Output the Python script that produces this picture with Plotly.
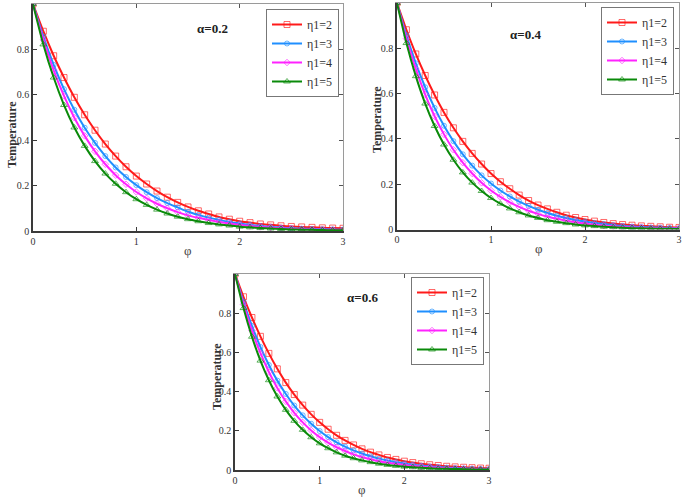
import plotly.graph_objects as go

# ---------------- data ----------------
PHI = [0.0, 0.1, 0.2, 0.3, 0.4, 0.5, 0.6, 0.7, 0.8, 0.9, 1.0,
       1.1, 1.2, 1.3, 1.4, 1.5, 1.6, 1.7, 1.8, 1.9, 2.0,
       2.1, 2.2, 2.3, 2.4, 2.5, 2.6, 2.7, 2.8, 2.9, 3.0]

SERIES_NAMES = ["η1=2", "η1=3", "η1=4", "η1=5"]
PANEL_TITLES = ["α=0.2", "α=0.4", "α=0.6"]
X_TICKS = [0, 1, 2, 3]
Y_TICKS = [0, 0.2, 0.4, 0.6, 0.8]
Y_TICK_TEXT = ["0", "0.2", "0.4", "0.6", "0.8"]

# alpha = 0.2
T_A02_ETA2 = [1.000, 0.880, 0.772, 0.676, 0.589, 0.512, 0.444, 0.383, 0.330, 0.283, 0.242,
              0.207, 0.176, 0.149, 0.126, 0.106, 0.089, 0.075, 0.062, 0.052, 0.043,
              0.037, 0.031, 0.027, 0.023, 0.020, 0.018, 0.016, 0.014, 0.013, 0.012]
T_A02_ETA3 = [1.000, 0.856, 0.732, 0.625, 0.534, 0.455, 0.388, 0.330, 0.280, 0.238, 0.202,
              0.171, 0.145, 0.123, 0.104, 0.085, 0.071, 0.059, 0.049, 0.040, 0.033,
              0.027, 0.022, 0.018, 0.015, 0.012, 0.010, 0.009, 0.008, 0.007, 0.006]
T_A02_ETA4 = [1.000, 0.842, 0.708, 0.595, 0.499, 0.419, 0.351, 0.294, 0.246, 0.206, 0.172,
              0.144, 0.120, 0.100, 0.083, 0.069, 0.058, 0.048, 0.040, 0.033, 0.027,
              0.022, 0.018, 0.015, 0.012, 0.010, 0.008, 0.007, 0.006, 0.005, 0.004]
T_A02_ETA5 = [1.000, 0.822, 0.676, 0.555, 0.456, 0.375, 0.308, 0.253, 0.208, 0.171, 0.140,
              0.115, 0.094, 0.077, 0.063, 0.052, 0.043, 0.035, 0.029, 0.024, 0.019,
              0.016, 0.013, 0.011, 0.009, 0.007, 0.006, 0.005, 0.004, 0.003, 0.003]

# alpha = 0.4
T_A04_ETA2 = [1.000, 0.882, 0.775, 0.680, 0.594, 0.517, 0.449, 0.389, 0.336, 0.289, 0.247,
              0.211, 0.180, 0.152, 0.128, 0.108, 0.091, 0.076, 0.063, 0.053, 0.044,
              0.037, 0.031, 0.026, 0.022, 0.019, 0.016, 0.014, 0.012, 0.010, 0.009]
T_A04_ETA3 = [1.000, 0.857, 0.734, 0.628, 0.537, 0.458, 0.390, 0.332, 0.282, 0.239, 0.203,
              0.172, 0.146, 0.123, 0.104, 0.087, 0.073, 0.061, 0.051, 0.042, 0.035,
              0.029, 0.024, 0.019, 0.016, 0.013, 0.011, 0.009, 0.008, 0.007, 0.006]
T_A04_ETA4 = [1.000, 0.843, 0.709, 0.596, 0.500, 0.420, 0.352, 0.295, 0.247, 0.206, 0.172,
              0.144, 0.120, 0.100, 0.083, 0.069, 0.057, 0.047, 0.039, 0.032, 0.026,
              0.021, 0.017, 0.014, 0.011, 0.009, 0.008, 0.006, 0.005, 0.004, 0.004]
T_A04_ETA5 = [1.000, 0.823, 0.677, 0.556, 0.457, 0.375, 0.308, 0.252, 0.207, 0.170, 0.139,
              0.114, 0.093, 0.076, 0.062, 0.051, 0.041, 0.034, 0.028, 0.022, 0.018,
              0.015, 0.012, 0.010, 0.008, 0.006, 0.005, 0.004, 0.003, 0.003, 0.002]

# alpha = 0.6
T_A06_ETA2 = [1.000, 0.884, 0.778, 0.682, 0.595, 0.516, 0.446, 0.385, 0.331, 0.284, 0.243,
              0.208, 0.177, 0.151, 0.128, 0.108, 0.091, 0.077, 0.064, 0.054, 0.045,
              0.038, 0.032, 0.027, 0.023, 0.019, 0.016, 0.014, 0.012, 0.010, 0.009]
T_A06_ETA3 = [1.000, 0.858, 0.735, 0.628, 0.536, 0.456, 0.388, 0.329, 0.279, 0.236, 0.199,
              0.168, 0.141, 0.119, 0.100, 0.084, 0.070, 0.058, 0.048, 0.040, 0.033,
              0.027, 0.022, 0.018, 0.015, 0.012, 0.010, 0.008, 0.007, 0.006, 0.005]
T_A06_ETA4 = [1.000, 0.845, 0.711, 0.597, 0.500, 0.419, 0.350, 0.292, 0.243, 0.202, 0.168,
              0.140, 0.116, 0.097, 0.080, 0.066, 0.055, 0.045, 0.037, 0.031, 0.025,
              0.021, 0.017, 0.014, 0.011, 0.009, 0.007, 0.006, 0.005, 0.004, 0.003]
T_A06_ETA5 = [1.000, 0.826, 0.680, 0.558, 0.458, 0.375, 0.307, 0.251, 0.205, 0.167, 0.136,
              0.111, 0.090, 0.073, 0.060, 0.049, 0.040, 0.032, 0.026, 0.021, 0.017,
              0.014, 0.011, 0.009, 0.007, 0.006, 0.005, 0.004, 0.003, 0.002, 0.002]

PANELS = [
    [T_A02_ETA2, T_A02_ETA3, T_A02_ETA4, T_A02_ETA5],
    [T_A04_ETA2, T_A04_ETA3, T_A04_ETA4, T_A04_ETA5],
    [T_A06_ETA2, T_A06_ETA3, T_A06_ETA4, T_A06_ETA5],
]

# ---------------- styles ----------------
W, H = 685, 499
SERIF = "Liberation Serif"
LINE_COLORS = ["#ff1a1a", "#1f8fff", "#ff22ff", "#0a8a0a"]
MARKER_SYMBOLS = ["square-open", "circle-open", "diamond-open", "triangle-up-open"]
MARKER_SIZES = [6, 5, 5, 6]

# panel boxes in pixels: (left, right, top, bottom)
BOXES = [(33, 343, 4, 231), (397, 679, 3, 229.5), (235, 489, 274, 470)]
LEGEND_POS = [(339, 9), (674, 7), (484, 277)]       # right, top (px)
TITLE_POS = [(213, 29), (525, 35), (362, 297)]      # center (px)
YLABEL_POS = [(12, 135), (377, 120), (217, 377)]
XLABEL_POS = [(188, 251), (539, 249), (362, 489)]


def px_x(p):
    return p / W


def px_y(p):
    return 1 - p / H


fig = go.Figure()
layout = dict(
    width=W, height=H,
    margin=dict(l=0, r=0, t=0, b=0, autoexpand=False),
    paper_bgcolor="white", plot_bgcolor="white",
    font=dict(family=SERIF, color="#333"),
    annotations=[],
)

for i, box in enumerate(BOXES):
    left, right, top, bottom = box
    n = i + 1
    xa, ya = ("x" if n == 1 else f"x{n}"), ("y" if n == 1 else f"y{n}")
    xo_n, yo_n = n + 3, n + 3
    legend_name = "legend" if n == 1 else f"legend{n}"

    for k, (name, vals) in enumerate(zip(SERIES_NAMES, PANELS[i])):
        fig.add_trace(go.Scatter(
            x=PHI, y=vals, name=name, mode="lines+markers",
            xaxis=xa, yaxis=ya, legend=legend_name,
            line=dict(color=LINE_COLORS[k], width=2, shape="spline", smoothing=0.6),
            marker=dict(symbol=MARKER_SYMBOLS[k], size=MARKER_SIZES[k],
                        color=LINE_COLORS[k], opacity=0.65,
                        line=dict(width=1, color=LINE_COLORS[k])),
        ))
    # empty trace to activate the mirror (top/right) axes
    fig.add_trace(go.Scatter(x=[], y=[], xaxis=f"x{xo_n}", yaxis=f"y{yo_n}",
                             showlegend=False, hoverinfo="skip"))

    dom_x = [px_x(left), px_x(right)]
    dom_y = [px_y(bottom), px_y(top)]
    xkey = "xaxis" if n == 1 else f"xaxis{n}"
    ykey = "yaxis" if n == 1 else f"yaxis{n}"
    layout[xkey] = dict(
        domain=dom_x, anchor=ya, range=[0, 3], tickvals=X_TICKS,
        showline=True, linecolor="#3a3a3a", linewidth=1.6,
        ticks="inside", ticklen=4, tickcolor="#3a3a3a", tickwidth=1,
        showgrid=False, zeroline=False, automargin=False,
        tickfont=dict(family=SERIF, size=10, color="#333"),
    )
    layout[ykey] = dict(
        domain=dom_y, anchor=xa, range=[0, 1.0], tickvals=Y_TICKS, ticktext=Y_TICK_TEXT,
        showline=True, linecolor="#3a3a3a", linewidth=1.6,
        ticks="inside", ticklen=4, tickcolor="#3a3a3a", tickwidth=1,
        showgrid=False, zeroline=False, automargin=False,
        tickfont=dict(family=SERIF, size=10, color="#333"),
    )
    layout[f"xaxis{xo_n}"] = dict(
        overlaying=xa, anchor=ya, side="top", range=[0, 3], tickvals=X_TICKS,
        showline=True, linecolor="#9a9a9a", linewidth=1,
        ticks="inside", ticklen=4, tickcolor="#555", showticklabels=False,
        showgrid=False, zeroline=False, automargin=False,
    )
    layout[f"yaxis{yo_n}"] = dict(
        overlaying=ya, anchor=xa, side="right", range=[0, 1.0], tickvals=Y_TICKS,
        showline=True, linecolor="#9a9a9a", linewidth=1,
        ticks="inside", ticklen=4, tickcolor="#555", showticklabels=False,
        showgrid=False, zeroline=False, automargin=False,
    )

    lr, lt = LEGEND_POS[i]
    layout[legend_name] = dict(
        x=px_x(lr), y=px_y(lt), xanchor="right", yanchor="top",
        bgcolor="white", bordercolor="#777", borderwidth=1,
        font=dict(family=SERIF, size=12, color="#333"),
        tracegroupgap=0, itemwidth=30,
    )

    tx, ty = TITLE_POS[i]
    layout["annotations"].append(dict(
        text=f"<b>{PANEL_TITLES[i]}</b>", x=px_x(tx), y=px_y(ty),
        xref="paper", yref="paper", showarrow=False,
        xanchor="center", yanchor="middle",
        font=dict(family=SERIF, size=13, color="#222"),
    ))
    yx, yy = YLABEL_POS[i]
    layout["annotations"].append(dict(
        text="<b>Temperature</b>", x=px_x(yx), y=px_y(yy), textangle=-90,
        xref="paper", yref="paper", showarrow=False,
        xanchor="center", yanchor="middle",
        font=dict(family=SERIF, size=12, color="#333"),
    ))
    lx, ly = XLABEL_POS[i]
    layout["annotations"].append(dict(
        text="φ", x=px_x(lx), y=px_y(ly),
        xref="paper", yref="paper", showarrow=False,
        xanchor="center", yanchor="middle",
        font=dict(family=SERIF, size=13, color="#444"),
    ))

fig.update_layout(**layout)
fig.write_html("out.html", config={"displayModeBar": False},
               post_script="document.body.style.margin='0px';")
